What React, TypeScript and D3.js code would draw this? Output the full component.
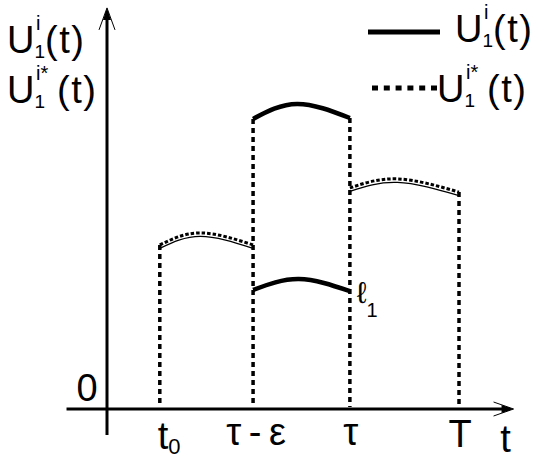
import React from 'react';
import * as d3 from 'd3';

const width = 544;
const height = 459;

// tick positions on t axis and their labels
const tickValues = [1.5, 4.15, 6.9, 10];
const tickNames = ['t0', 'τ\u2009-\u2009ε', 'τ', 'T'];

// curves as [t, value]
const uStarLeft: [number, number][] = [[1.5, 5.47], [2.65, 5.87], [4.15, 5.47]];
const uHigh: [number, number][] = [[4.15, 9.67], [5.4, 10.17], [6.9, 9.7]];
const uLow: [number, number][] = [[4.15, 3.97], [5.45, 4.33], [6.9, 3.93]];
const uStarRight: [number, number][] = [[6.9, 7.37], [8.25, 7.67], [10, 7.23]];

// vertical drop lines: [t, top value]
const drops: [number, number][] = [[1.5, 5.47], [4.15, 9.67], [6.9, 9.7], [10, 7.23]];

const font = '"Liberation Sans", Arial, sans-serif';

const x = d3.scaleLinear().domain([0, 10]).range([107, 459]);
const y = d3.scaleLinear().domain([0, 10]).range([409, 109]);

const line = d3.line<[number, number]>()
  .x(d => x(d[0]))
  .y(d => y(d[1]))
  .curve(d3.curveNatural);

// U with sub 1 and sup i / i*, all in one text
function ULabel(props: { x: number; y: number; star?: boolean }) {
  const { x: lx, y: ly, star } = props;
  return (
    <text x={lx - 3} y={ly} fontFamily={font} fontSize={38} fill="black">
      U
      <tspan x={lx + 24.5} dy={5} fontSize={19}>1</tspan>
      <tspan x={lx + 26} dy={-28} fontSize={20}>{star ? 'i*' : 'i'}</tspan>
      <tspan x={star ? lx + 47 : lx + 35} dy={23} letterSpacing={1.5}>(t)</tspan>
    </text>
  );
}

export default function App() {
  const x0 = x(-1.15);
  const x1 = x(11.55);
  const yTop = y(13.37);
  const yBot = y(-0.87);
  const ox = x(0);
  const oy = y(0);

  return (
    <svg width={width} height={height} style={{ position: 'absolute', left: 0, top: 0, background: 'white' }}>
      <rect width={width} height={height} fill="white" />

      {/* axes */}
      <line x1={x0} y1={oy} x2={x1 - 4} y2={oy} stroke="black" strokeWidth={3} />
      <path d={`M${x1},${oy} L${x1 - 12},${oy - 4} L${x1 - 12},${oy + 4} Z`} fill="black" />
      <path d={`M${x1 - 20},${oy - 7} L${x1},${oy} L${x1 - 20},${oy + 7}`} fill="none" stroke="black" strokeWidth={1} />

      <line x1={ox} y1={yBot} x2={ox} y2={yTop + 4} stroke="black" strokeWidth={3} />
      <path d={`M${ox},${yTop} L${ox - 4},${yTop + 12} L${ox + 4},${yTop + 12} Z`} fill="black" />
      <path d={`M${ox - 8},${yTop + 22} L${ox},${yTop} L${ox + 8},${yTop + 22}`} fill="none" stroke="black" strokeWidth={1} />

      {/* drop lines */}
      {drops.map((d, i) => (
        <line key={i} x1={x(d[0])} y1={y(d[1])} x2={x(d[0])} y2={oy - 2}
          stroke="black" strokeWidth={3.5} strokeDasharray="5 4" />
      ))}

      {/* U* curves: dotted with thin line under */}
      {[uStarLeft, uStarRight].map((s, i) => (
        <g key={i}>
          <path d={line(s) || ''} fill="none" stroke="black" strokeWidth={1.2} transform="translate(0,3.5)" />
          <path d={line(s) || ''} fill="none" stroke="black" strokeWidth={3} strokeDasharray="3.5 2" />
        </g>
      ))}

      {/* U curves */}
      {[uHigh, uLow].map((s, i) => (
        <path key={i} d={line(s) || ''} fill="none" stroke="black" strokeWidth={4.5} />
      ))}

      {/* tick labels */}
      <g fontFamily={font} fill="black" fontSize={38}>
        <text x={x(tickValues[0]) - 2} y={449}>t<tspan fontSize={22} dy={5}>0</tspan></text>
        <text x={x(tickValues[1]) + 3} y={445} textAnchor="middle">{tickNames[1]}</text>
        <text x={x(tickValues[2]) + 1} y={445} textAnchor="middle">{tickNames[2]}</text>
        <text x={x(tickValues[3]) + 1} y={447} textAnchor="middle">{tickNames[3]}</text>
        <text x={x1 - 8} y={452} textAnchor="middle">t</text>
        <text x={ox - 20} y={401} textAnchor="middle">0</text>
      </g>

      {/* l1 */}
      <text x={x(6.9) + 7} y={303} fontFamily={font} fontSize={30} fill="black">
        ℓ<tspan fontSize={20} dy={14}>1</tspan>
      </text>

      {/* y axis labels */}
      <ULabel x={10} y={53} />
      <ULabel x={10} y={103} star />

      {/* legend */}
      <line x1={368} y1={32} x2={440} y2={32} stroke="black" strokeWidth={5} />
      <ULabel x={458} y={42} />
      <line x1={372} y1={88} x2={437} y2={88} stroke="black" strokeWidth={5} strokeDasharray="6 5.8" />
      <ULabel x={440} y={102} star />
    </svg>
  );
}
